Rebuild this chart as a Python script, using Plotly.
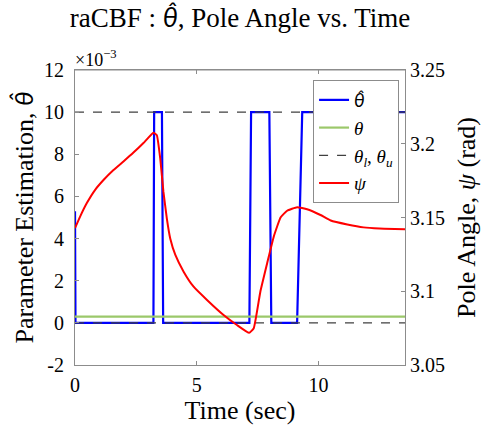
import plotly.graph_objects as go

# ---- data ----
t_end = 13.55
theta_hat_t = [0, 0.02, 3.22, 3.25, 3.57, 3.62, 7.16, 7.23, 7.98, 8.06, 9.12, 9.33, 13.55]
theta_hat_v = [5.3e-3, 0, 0, 10e-3, 10e-3, 0, 0, 10e-3, 10e-3, 0, 0, 10e-3, 10e-3]
theta_true = 0.3e-3
theta_l = 0.0
theta_u = 10e-3

psi_t = [0, 0.21, 0.48, 0.82, 1.17, 1.58, 1.99, 2.40, 2.81, 3.22, 3.36, 3.50, 3.63,
         3.77, 3.91, 4.12, 4.46, 4.87, 5.42, 6.10, 6.65, 7.15, 7.34, 7.61, 7.89, 8.16,
         8.44, 8.71, 9.12, 9.53, 10.08, 10.5, 11.18, 11.85, 12.5, 13.55]
psi_v = [3.1428, 3.1506, 3.1596, 3.1686, 3.1754, 3.1822, 3.1880, 3.1940, 3.2005, 3.2075,
         3.2058, 3.190, 3.1675, 3.1494, 3.1358, 3.1246, 3.1133, 3.1031, 3.0941, 3.0839,
         3.0771, 3.0718, 3.0749, 3.0997, 3.119, 3.137, 3.150, 3.1546, 3.157, 3.1556,
         3.1517, 3.148, 3.1453, 3.1433, 3.1425, 3.142]

left_ticks = [-2e-3, 0, 2e-3, 4e-3, 6e-3, 8e-3, 10e-3, 12e-3]
left_ticktext = ["-2", "0", "2", "4", "6", "8", "10", "12"]
right_ticks = [3.05, 3.1, 3.15, 3.2, 3.25]
right_ticktext = ["3.05", "3.1", "3.15", "3.2", "3.25"]
x_ticks = [0, 5, 10]

FONT = "Liberation Serif"
AX = "#8c8c8c"
TH = '<span style="font-family:Lato"><i>θ̂</i></span>'

fig = go.Figure()
fig.add_trace(go.Scatter(x=theta_hat_t, y=theta_hat_v, mode="lines",
                         line=dict(color="#0000FF", width=2.2), name=TH))
fig.add_trace(go.Scatter(x=[0, t_end], y=[theta_true, theta_true], mode="lines",
                         line=dict(color="#9BC86A", width=2.2), name="<i>θ</i>"))
fig.add_trace(go.Scatter(x=[0, t_end, None, 0, t_end],
                         y=[theta_l, theta_l, None, theta_u, theta_u], mode="lines",
                         line=dict(color="#404040", width=1.3, dash="dash"),
                         name="<i>θ<sub>l</sub></i>, <i>θ<sub>u</sub></i>"))
fig.add_trace(go.Scatter(x=psi_t, y=psi_v, mode="lines", yaxis="y2",
                         line=dict(color="#FF0000", width=2, shape="spline", smoothing=0.35),
                         name="<i>ψ</i>"))

fig.update_layout(
    width=482, height=425,
    margin=dict(l=75, r=77, t=70, b=60, autoexpand=False),
    paper_bgcolor="white", plot_bgcolor="white",
    font=dict(family=FONT, size=20, color="black"),
    title=dict(text="raCBF : " + TH + ", Pole Angle vs. Time", x=0.5, xref="paper",
               xanchor="center", y=0.958, yanchor="middle",
               font=dict(family=FONT, size=27, color="black")),
    showlegend=True,
    legend=dict(x=0.982, y=0.966, xanchor="right", yanchor="top",
                bgcolor="white", bordercolor=AX, borderwidth=1,
                font=dict(family=FONT, size=19), tracegroupgap=0),
    xaxis=dict(range=[0, t_end], tickvals=x_ticks, ticks="inside", ticklen=4,
               tickcolor=AX, showline=True, linecolor=AX, linewidth=1, mirror="ticks",
               showgrid=False, zeroline=False, automargin=False, ticklabelstandoff=2,
               title=dict(text="Time (sec)", standoff=0, font=dict(size=26))),
    yaxis=dict(range=[-2e-3, 12e-3], tickvals=left_ticks, ticktext=left_ticktext,
               ticks="inside", ticklen=4, tickcolor=AX, showline=True, linecolor=AX,
               linewidth=1, showgrid=False, zeroline=False, automargin=False,
               ticklabelstandoff=6,
               title=dict(text="Parameter Estimation, " + TH, standoff=2,
                          font=dict(size=26))),
    yaxis2=dict(range=[3.05, 3.25], tickvals=right_ticks, ticktext=right_ticktext,
                overlaying="y", side="right", ticks="inside", ticklen=4, tickcolor=AX,
                showline=True, linecolor=AX, linewidth=1, showgrid=False, zeroline=False,
                automargin=False, ticklabelstandoff=0,
                title=dict(text="Pole Angle, <i>ψ</i> (rad)", standoff=12,
                           font=dict(size=26))),
)
fig.add_shape(type="line", xref="paper", yref="paper", x0=0, x1=1, y0=1, y1=1,
              line=dict(color=AX, width=1))
fig.add_annotation(text="×10<sup>−3</sup>", xref="paper", yref="paper", x=0.0, y=1.0,
                   xanchor="left", yanchor="bottom", showarrow=False,
                   font=dict(family=FONT, size=18), xshift=-2, yshift=-2)

fig.write_html("out.html", config={"displayModeBar": False},
               post_script="document.body.style.margin='0';")
